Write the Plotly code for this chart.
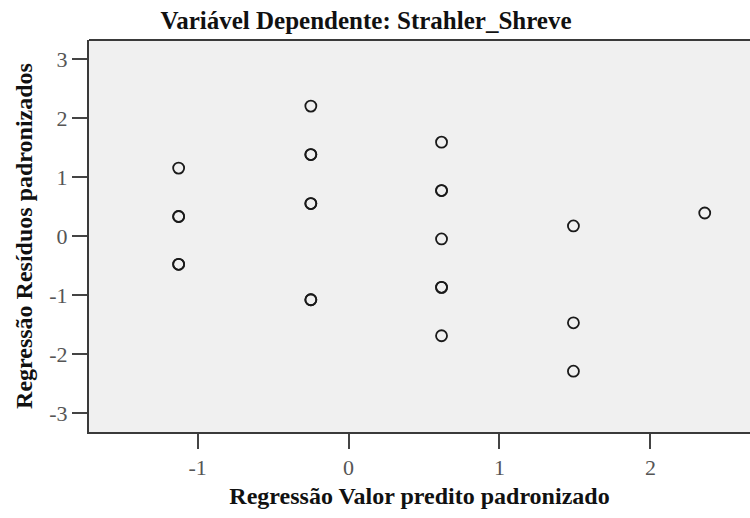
import plotly.graph_objects as go

# Standardized predicted values (x) and standardized residuals (y); repeated points = overlapping cases
pred_values = [-1.126, -1.126, -1.126, -1.126, -1.126,
               -0.25, -0.25, -0.25, -0.25, -0.25, -0.25, -0.25,
               0.616, 0.616, 0.616, 0.616, 0.616, 0.616, 0.616,
               1.49, 1.49, 1.49,
               2.36]
residuals = [1.15, 0.33, 0.33, -0.48, -0.48,
             2.2, 1.38, 1.38, 0.55, 0.55, -1.08, -1.08,
             1.59, 0.77, 0.77, -0.05, -0.87, -0.87, -1.69,
             0.17, -1.47, -2.29,
             0.39]

x_ticks = [-1, 0, 1, 2]
x_tick_labels = ["-1", "0", "1", "2"]
y_ticks = [-3, -2, -1, 0, 1, 2, 3]
y_tick_labels = ["-3", "-2", "-1", "0", "1", "2", "3"]

serif = "Liberation Serif, Times New Roman, serif"

fig = go.Figure()
fig.add_trace(go.Scatter(
    x=pred_values, y=residuals, mode="markers",
    marker=dict(symbol="circle-open", size=11, color="#1a1a1a", line=dict(width=1.8, color="#1a1a1a")),
    showlegend=False, hoverinfo="x+y",
))

axis_common = dict(
    showgrid=False, zeroline=False, showline=True, linecolor="#3a3a3a", linewidth=2,
    ticks="outside", ticklen=15, tickwidth=2, tickcolor="#444444",
    tickfont=dict(family=serif, size=22, color="#555555"),
    automargin=False,
)

fig.update_layout(
    width=750, height=518,
    paper_bgcolor="white", plot_bgcolor="#F0F0F0",
    margin=dict(l=89, r=0, t=40, b=86),
    title=dict(text="<b>Variável Dependente: Strahler_Shreve</b>", x=366 / 750, xanchor="center",
               y=1 - 20 / 518, yanchor="middle",
               font=dict(family=serif, size=25, color="#111111")),
    xaxis=dict(range=[-1.72, 2.66], tickvals=x_ticks, ticktext=x_tick_labels,
               title=dict(text="<b>Regressão Valor predito padronizado</b>", standoff=8,
                          font=dict(family=serif, size=24, color="#111111")),
               **axis_common),
    yaxis=dict(range=[-3.32, 3.32], tickvals=y_ticks, ticktext=y_tick_labels,
               title=dict(text="<b>Regressão Resíduos padronizados</b>", standoff=10,
                          font=dict(family=serif, size=24, color="#111111")),
               **axis_common),
)
# top border of the plot frame
fig.add_shape(type="line", xref="paper", yref="paper", x0=0, x1=1, y0=1, y1=1,
              line=dict(color="#3a3a3a", width=2))

fig.write_html("out.html", config={"displayModeBar": False},
               post_script="document.body.style.margin='0px';")
